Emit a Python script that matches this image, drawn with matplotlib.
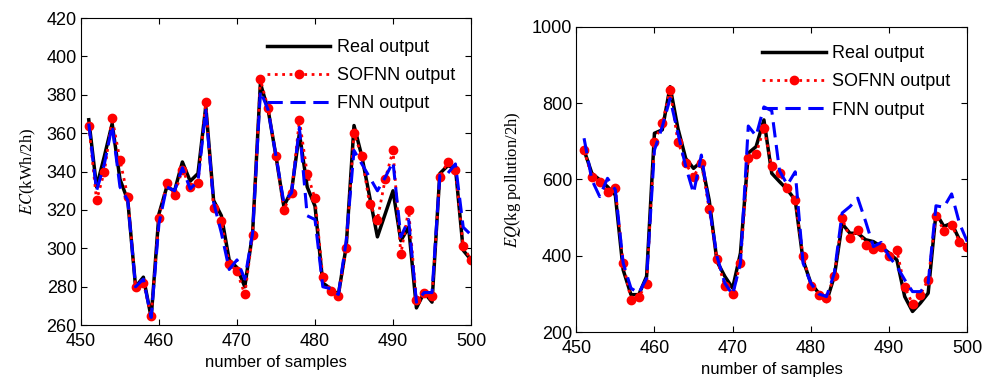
import numpy as np
import matplotlib
matplotlib.use('Agg')
import matplotlib.pyplot as plt

# sample index
samples = np.arange(451, 501)

# energy consumption EC (kWh/2h)
ec_real = [367, 332, 348, 365, 336, 325, 280, 285, 264, 318,
           332, 330, 345, 335, 339, 374, 325, 317, 294, 290,
           280, 308, 386, 372, 348, 322, 330, 360, 332, 322,
           282, 279, 276, 301, 364, 348, 327, 306, 318, 330,
           304, 311, 269, 277, 272, 339, 343, 342, 299, 294]
ec_sofnn = [364, 325, 340, 368, 346, 327, 280, 282, 265, 316,
            334, 328, 341, 332, 334, 376, 321, 314, 292, 288,
            276, 307, 388, 373, 348, 320, 329, 367, 339, 326,
            285, 278, 275, 300, 360, 348, 323, 315, 336, 351,
            297, 320, 273, 277, 275, 337, 345, 341, 301, 294]
ec_fnn = [365, 330, 344, 364, 332, 325, 280, 284, 264, 313,
          332, 330, 342, 331, 335, 372, 324, 308, 289, 294,
          284, 308, 382, 372, 348, 324, 329, 363, 317, 315,
          280, 279, 276, 304, 351, 344, 337, 330, 337, 345,
          306, 315, 272, 277, 277, 338, 339, 344, 311, 307]

# effluent quality EQ (kg pollution/2h)
eq_real = [677, 616, 599, 581, 559, 363, 298, 298, 346, 721,
           730, 843, 734, 655, 629, 647, 546, 385, 346, 315,
           407, 669, 686, 756, 616, 594, 573, 546, 389, 328,
           302, 280, 346, 484, 459, 459, 442, 437, 424, 407,
           389, 293, 254, 276, 302, 512, 477, 485, 442, 420]
eq_sofnn = [677, 606, 594, 566, 577, 381, 285, 293, 326, 699,
            747, 834, 699, 642, 607, 644, 522, 391, 321, 300,
            381, 655, 667, 734, 634, 618, 577, 545, 400, 321,
            298, 289, 347, 498, 446, 468, 429, 417, 423, 400,
            414, 318, 274, 298, 337, 505, 466, 481, 437, 423]
eq_fnn = [708, 599, 555, 603, 573, 381, 315, 302, 341, 677,
          738, 812, 721, 634, 564, 664, 529, 398, 328, 298,
          381, 740, 714, 790, 780, 622, 586, 620, 381, 328,
          300, 293, 354, 512, 529, 551, 490, 424, 435, 398,
          372, 337, 306, 306, 328, 531, 527, 562, 485, 437]

plt.rcParams['font.family'] = ['Liberation Sans', 'DejaVu Sans']
plt.rcParams['mathtext.fontset'] = 'stix'

fig = plt.figure(figsize=(9.85, 3.83), dpi=100)
ax1 = fig.add_axes([0.0822, 0.151, 0.396, 0.802])
ax2 = fig.add_axes([0.585, 0.133, 0.397, 0.797])


def draw(ax, real, sofnn, fnn, anchor):
    ax.plot(samples, real, color='k', lw=2.5, label='Real output')
    ax.plot(samples, sofnn, color='red', lw=2, ls=':', marker='o', ms=6,
            label='SOFNN output')
    ax.plot(samples, fnn, color='blue', lw=2.2, ls=(0, (5, 2.5)),
            label='FNN output')
    ax.set_xlim(450, 500)
    ax.set_xticks([450, 460, 470, 480, 490, 500])
    ax.tick_params(direction='in', top=True, right=True, labelsize=13,
                   length=4, width=0.8)
    ax.tick_params(axis='x', pad=5.5)
    ax.tick_params(axis='y', pad=3)
    ax.set_xlabel('number of samples', fontsize=12, labelpad=4)
    ax.legend(loc='upper left', frameon=False, fontsize=13, numpoints=1,
              handlelength=3.5, handletextpad=0.35, labelspacing=0.62,
              borderpad=0, borderaxespad=0, bbox_to_anchor=anchor)


draw(ax1, ec_real, ec_sofnn, ec_fnn, (0.477, 0.932))
ax1.set_ylim(260, 420)
ax1.set_yticks(np.arange(260, 421, 20))
ax1.set_ylabel(r'$EC$(kWh/2h)', family='Liberation Serif', fontsize=12,
               labelpad=6)

draw(ax2, eq_real, eq_sofnn, eq_fnn, (0.476, 0.94))
ax2.set_ylim(200, 1000)
ax2.set_yticks([200, 400, 600, 800, 1000])
ax2.set_ylabel(r'$EQ$(kg pollution/2h)', family='Liberation Serif', fontsize=12,
               labelpad=6)

fig.savefig('out.png', dpi=100)
